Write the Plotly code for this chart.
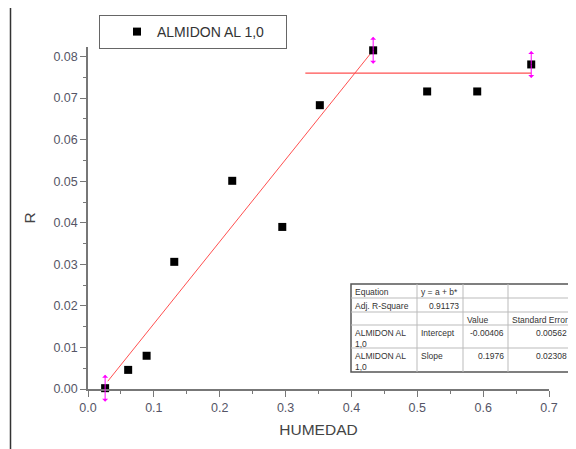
import plotly.graph_objects as go

# ---- data ----
humedad = [0.026, 0.061, 0.089, 0.131, 0.219, 0.295, 0.352, 0.433, 0.515, 0.591, 0.673]
r_vals = [0.0002, 0.0046, 0.0080, 0.0306, 0.0501, 0.0390, 0.0683, 0.0815, 0.0716, 0.0716, 0.0781]
arrow_idx = [0, 7, 10]

intercept = -0.00406
slope = 0.1976
fit_x = [0.03, 0.433]
plateau_x = [0.33, 0.673]
plateau_y = 0.0760

series_name = "ALMIDON AL 1,0"
x_ticks = [0.0, 0.1, 0.2, 0.3, 0.4, 0.5, 0.6, 0.7]
y_ticks = [0.00, 0.01, 0.02, 0.03, 0.04, 0.05, 0.06, 0.07, 0.08]

table_rows = [
    ["Equation", "y = a + b*", "", ""],
    ["Adj. R-Square", "0.91173", "", ""],
    ["", "", "Value", "Standard Error"],
    ["ALMIDON AL<br>1,0", "Intercept", "-0.00406", "0.00562"],
    ["ALMIDON AL<br>1,0", "Slope", "0.1976", "0.02308"],
]

# page body has an 8px margin, so the figure is drawn 8px in and 8px down
OFF = 8
W, H = 576 - OFF, 449 - OFF
# plot area as seen on screen
L, R, T, B = 88, 549, 47, 389
FONT = "Arial, Liberation Sans, sans-serif"


def px(x):
    return (x - L) / (R - L)


def py(y):
    return (B - y) / (B - T)


fig = go.Figure()

fit_y = [intercept + slope * v for v in fit_x]
fig.add_trace(go.Scatter(x=fit_x, y=fit_y, mode="lines", showlegend=False,
                         line=dict(color="#ff5050", width=1), hoverinfo="skip"))
fig.add_trace(go.Scatter(x=plateau_x, y=[plateau_y, plateau_y], mode="lines",
                         showlegend=False, line=dict(color="#ff5050", width=1.3),
                         hoverinfo="skip"))
fig.add_trace(go.Scatter(x=humedad, y=r_vals, mode="markers", name=series_name,
                         marker=dict(symbol="square", size=8, color="black"),
                         cliponaxis=False))

annotations = []
for i in arrow_idx:
    for ay in (-15, 15):
        annotations.append(dict(x=humedad[i], y=r_vals[i], xref="x", yref="y",
                                text="", showarrow=True, ax=0, ay=ay,
                                arrowside="start", arrowhead=1, arrowsize=2,
                                arrowwidth=1, arrowcolor="#ff00ff"))

# ---- fit table ----
col_x = [351, 417, 463, 508, 571]
row_y = [284, 298, 312, 325, 348, 372]
shapes = []
shapes.append(dict(type="rect", xref="paper", yref="paper",
                   x0=px(col_x[0]), x1=px(col_x[-1]), y0=py(row_y[0]), y1=py(row_y[-1]),
                   line=dict(color="#555555", width=1.5), fillcolor="white", layer="below"))
for cx in col_x[1:-1]:
    shapes.append(dict(type="line", xref="paper", yref="paper", x0=px(cx), x1=px(cx),
                       y0=py(row_y[0]), y1=py(row_y[-1]), line=dict(color="#bbbbbb", width=1)))
for ry in row_y[1:-1]:
    shapes.append(dict(type="line", xref="paper", yref="paper", x0=px(col_x[0]), x1=px(col_x[-1]),
                       y0=py(ry), y1=py(ry), line=dict(color="#bbbbbb", width=1)))

right_cells = {(1, 1), (3, 2), (3, 3), (4, 2), (4, 3)}
for ri, row in enumerate(table_rows):
    for ci, txt in enumerate(row):
        if not txt:
            continue
        if (ri, ci) in right_cells:
            xa, xx = "right", col_x[ci + 1] - 2
        else:
            xa, xx = "left", col_x[ci] + 2
        annotations.append(dict(x=px(xx), y=py(row_y[ri] + 1), xref="paper", yref="paper",
                                text=txt, showarrow=False, xanchor=xa, yanchor="top",
                                align="left", font=dict(family=FONT, size=8.5, color="#333333")))

# left window frame line
shapes.append(dict(type="line", xref="paper", yref="paper", x0=px(10.5), x1=px(10.5),
                   y0=py(OFF), y1=py(449), line=dict(color="#333333", width=1.5)))

fig.update_layout(
    width=W, height=H,
    margin=dict(l=L - OFF, r=W - (R - OFF), t=T - OFF, b=H - (B - OFF), autoexpand=False),
    paper_bgcolor="white", plot_bgcolor="white",
    font=dict(family=FONT, size=12, color="#555555"),
    showlegend=True,
    legend=dict(x=px(99), y=py(15), xanchor="left", yanchor="top",
                orientation="h", entrywidth=124,
                bordercolor="#666666", borderwidth=1, bgcolor="white",
                font=dict(family=FONT, size=14, color="#333333"),
                indentation=17),
    xaxis=dict(range=[0, 0.7], tickvals=x_ticks, tickformat=".1f", automargin=False,
               showgrid=False, zeroline=False, showline=True, linecolor="#777777",
               linewidth=1.5, ticks="outside", ticklen=6, tickcolor="#777777",
               minor=dict(ticks="outside", ticklen=3, dtick=0.05, tickcolor="#777777"),
               tickfont=dict(size=12.5, color="#555566"),
               title=dict(text="HUMEDAD", font=dict(size=15.5, color="#444444"), standoff=10)),
    yaxis=dict(range=[0, 0.0823], tickvals=y_ticks, tickformat=".2f", automargin=False,
               showgrid=False, zeroline=False, showline=True, linecolor="#777777",
               linewidth=1.5, ticks="outside", ticklen=6, tickcolor="#777777",
               minor=dict(ticks="outside", ticklen=3, dtick=0.005, tickcolor="#777777"),
               tickfont=dict(size=12.5, color="#555566"),
               title=dict(text="R", font=dict(size=15.5, color="#444444"), standoff=14)),
    shapes=shapes,
    annotations=annotations,
)

fig.write_html("out.html")
